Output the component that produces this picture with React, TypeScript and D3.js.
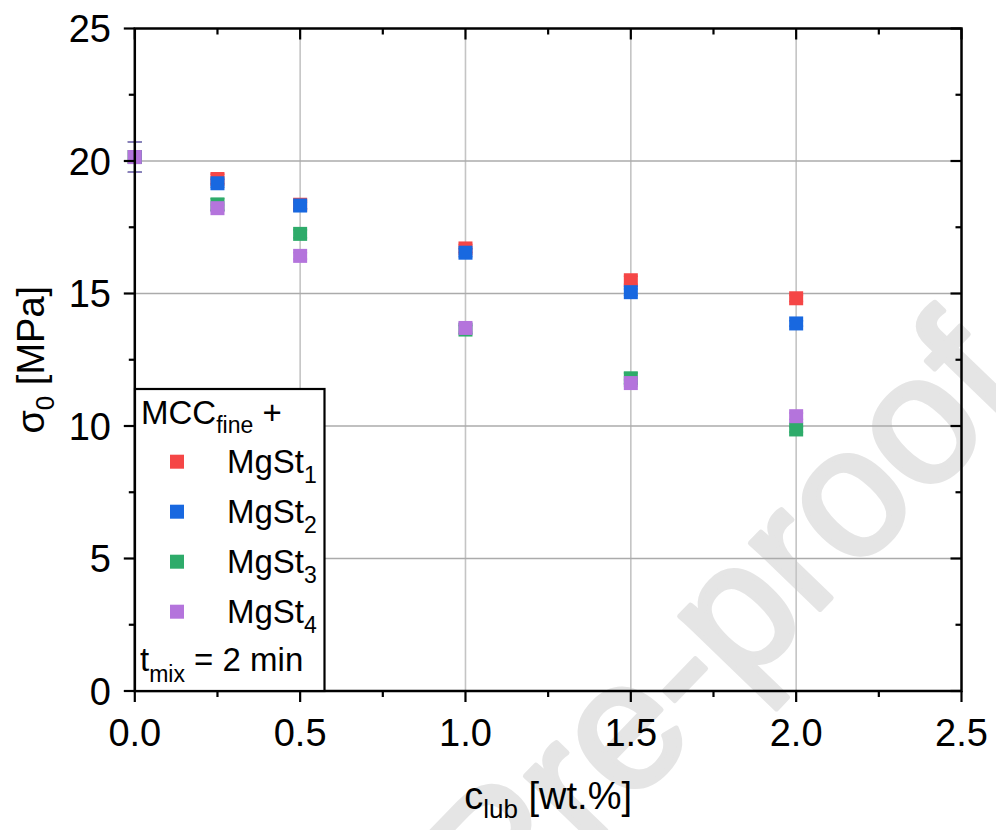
import React from 'react';
import * as d3 from 'd3';

const xValues = [0, 0.25, 0.5, 1.0, 1.5, 2.0];
const mgSt1 = [20.15, 19.32, 18.35, 16.7, 15.5, 14.82];
const mgSt2 = [20.15, 19.16, 18.32, 16.54, 15.05, 13.87];
const mgSt3 = [20.15, 18.36, 17.25, 13.64, 11.8, 9.87];
const mgSt4 = [20.15, 18.22, 16.42, 13.7, 11.62, 10.37];
const err1 = [0.57, 0.18, 0.16, 0.15, 0.15, 0.12];
const err2 = [0.57, 0.15, 0.12, 0.15, 0.12, 0.1];
const err3 = [0.57, 0.22, 0.15, 0.15, 0.2, 0.1];
const err4 = [0.57, 0.12, 0.12, 0.15, 0.12, 0.12];
const seriesLabels = ['1', '2', '3', '4'];
const seriesColors = ['#F54646', '#1868E0', '#2EAB6A', '#B474DC'];

const xMajorTicks = [0, 0.5, 1.0, 1.5, 2.0, 2.5];
const xMinorTicks = [0.25, 0.75, 1.25, 1.75, 2.25];
const xTickLabels = ['0.0', '0.5', '1.0', '1.5', '2.0', '2.5'];
const yMajorTicks = [0, 5, 10, 15, 20, 25];
const yMinorTicks = [2.5, 7.5, 12.5, 17.5, 22.5];
const yTickLabels = ['0', '5', '10', '15', '20', '25'];
const xGrid = [0.5, 1.0, 1.5, 2.0];
const yGrid = [5, 10, 15, 20];

const FONT = '"Liberation Sans", Arial, Helvetica, sans-serif';

export default function App() {
  const W = 996, H = 830;
  const x = d3.scaleLinear().domain([0, 2.5]).range([134.8, 961.5]);
  const y = d3.scaleLinear().domain([0, 25]).range([691, 28.5]);
  const values = [mgSt1, mgSt2, mgSt3, mgSt4];
  const errors = [err1, err2, err3, err4];
  const ms = 14;
  const capW = 14;
  const x0 = x(0), x1 = x(2.5), y0 = y(0), y1 = y(25);
  const majorLen = 11, minorLen = 6;

  const legX = 135, legY = 389, legW = 189.5, legH = y0 - 389;

  return (
    <svg width={W} height={H} viewBox={`0 0 ${W} ${H}`} style={{ position: 'absolute', left: 0, top: 0, background: '#fff' }} fontFamily={FONT}>
      <rect x={0} y={0} width={W} height={H} fill="#fff" />
      {/* watermark */}
      <text
        transform={`translate(1029,393) rotate(-46)`}
        textAnchor="end"
        fontSize={182}
        fill="#e5e5e5"
        stroke="#e5e5e5"
        strokeWidth={5}
        strokeLinejoin="round"
      >Journal Pre-proof</text>

      {/* grid */}
      {xGrid.map((v) => (
        <line key={'gx' + v} x1={x(v)} x2={x(v)} y1={y0} y2={y1} stroke="#c4c4c4" strokeWidth={1.6} />
      ))}
      {yGrid.map((v) => (
        <line key={'gy' + v} x1={x0} x2={x1} y1={y(v)} y2={y(v)} stroke="#ababab" strokeWidth={1.3} />
      ))}

      {/* data: error bars and markers */}
      {values.map((vals, si) => (
        <g key={'s' + si}>
          {vals.map((v, i) => {
            const cx = x(xValues[i]);
            const e = errors[si][i];
            const yt = y(v + e), yb = y(v - e);
            return (
              <g key={i}>
                <line x1={cx} x2={cx} y1={yt} y2={yb} stroke={seriesColors[si]} strokeWidth={1.5} opacity={0.8} />
                <line x1={cx - capW / 2} x2={cx + capW / 2} y1={yt} y2={yt} stroke={seriesColors[si]} strokeWidth={1.5} opacity={0.8} />
                <line x1={cx - capW / 2} x2={cx + capW / 2} y1={yb} y2={yb} stroke={seriesColors[si]} strokeWidth={1.5} opacity={0.8} />
                <rect x={cx - ms / 2} y={y(v) - ms / 2} width={ms} height={ms} fill={seriesColors[si]} />
              </g>
            );
          })}
        </g>
      ))}

      {/* frame */}
      <rect x={x0} y={y1} width={x1 - x0} height={y0 - y1} fill="none" stroke="#000" strokeWidth={2.5} />

      {/* bottom ticks (outward) */}
      {xMajorTicks.map((v) => (
        <line key={'bx' + v} x1={x(v)} x2={x(v)} y1={y0} y2={y0 + majorLen} stroke="#000" strokeWidth={2.2} />
      ))}
      {xMinorTicks.map((v) => (
        <line key={'bxm' + v} x1={x(v)} x2={x(v)} y1={y0} y2={y0 + minorLen} stroke="#000" strokeWidth={2.2} />
      ))}
      {/* top ticks (inward) */}
      {xMajorTicks.map((v) => (
        <line key={'tx' + v} x1={x(v)} x2={x(v)} y1={y1} y2={y1 + majorLen} stroke="#000" strokeWidth={2.2} />
      ))}
      {xMinorTicks.map((v) => (
        <line key={'txm' + v} x1={x(v)} x2={x(v)} y1={y1} y2={y1 + minorLen} stroke="#000" strokeWidth={2.2} />
      ))}
      {/* left ticks (outward) */}
      {yMajorTicks.map((v) => (
        <line key={'ly' + v} x1={x0 - majorLen} x2={x0} y1={y(v)} y2={y(v)} stroke="#000" strokeWidth={2.2} />
      ))}
      {yMinorTicks.map((v) => (
        <line key={'lym' + v} x1={x0 - minorLen} x2={x0} y1={y(v)} y2={y(v)} stroke="#000" strokeWidth={2.2} />
      ))}
      {/* right ticks (inward) */}
      {yMajorTicks.map((v) => (
        <line key={'ry' + v} x1={x1 - majorLen} x2={x1} y1={y(v)} y2={y(v)} stroke="#000" strokeWidth={2.2} />
      ))}
      {yMinorTicks.map((v) => (
        <line key={'rym' + v} x1={x1 - minorLen} x2={x1} y1={y(v)} y2={y(v)} stroke="#000" strokeWidth={2.2} />
      ))}

      {/* tick labels */}
      {xMajorTicks.map((v, i) => (
        <text key={'xl' + v} x={x(v)} y={746} textAnchor="middle" fontSize={38} fill="#000">{xTickLabels[i]}</text>
      ))}
      {yMajorTicks.map((v, i) => (
        <text key={'yl' + v} x={111} y={y(v)} dy="0.36em" textAnchor="end" fontSize={38} fill="#000">{yTickLabels[i]}</text>
      ))}

      {/* axis titles */}
      <text x={(x0 + x1) / 2} y={809} textAnchor="middle" fontSize={38} fill="#000">
        c<tspan fontSize={26} dy={9}>lub</tspan><tspan dy={-9}> [wt.%]</tspan>
      </text>
      <text transform={`translate(44,${(y0 + y1) / 2}) rotate(-90)`} textAnchor="middle" fontSize={38} fill="#000">
        σ<tspan fontSize={26} dy={10}>0</tspan><tspan dy={-10}> [MPa]</tspan>
      </text>

      {/* legend */}
      <rect x={legX} y={legY} width={legW} height={legH} fill="#fff" stroke="#000" strokeWidth={2.2} />
      <text x={141} y={424} fontSize={33} fill="#000">
        MCC<tspan fontSize={23} dy={9}>fine</tspan><tspan dy={-9}> +</tspan>
      </text>
      {seriesLabels.map((lab, i) => {
        const cy = 461.7 + i * 50;
        return (
          <g key={'leg' + i}>
            <rect x={177 - ms / 2} y={cy - ms / 2} width={ms} height={ms} fill={seriesColors[i]} />
            <text x={227} y={cy + 11} fontSize={33} fill="#000">
              MgSt<tspan fontSize={23} dy={10}>{lab}</tspan>
            </text>
          </g>
        );
      })}
      <text x={140} y={671} fontSize={33} fill="#000">
        t<tspan fontSize={23} dy={11}>mix</tspan><tspan dy={-11}> = 2 min</tspan>
      </text>
    </svg>
  );
}
